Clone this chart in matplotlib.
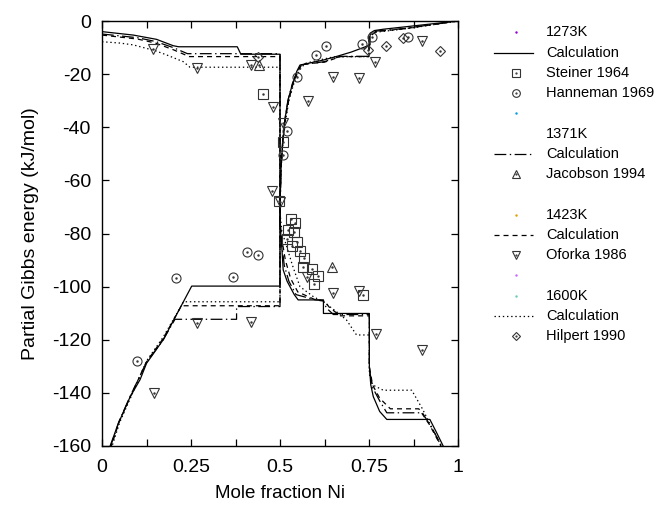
import numpy as np
import matplotlib
matplotlib.use("Agg")
import matplotlib.pyplot as plt

plt.rcParams['font.family'] = ['Liberation Sans', 'DejaVu Sans']
plt.rcParams['lines.scale_dashes'] = False

# ---------------- data ----------------
# Calculated partial Gibbs energies (kJ/mol); "al" branch falls, "ni" branch rises
al_1273_x = [0, 0.088, 0.153, 0.2, 0.215, 0.38, 0.39, 0.5, 0.5, 0.501, 0.505, 0.509, 0.52, 0.528, 0.54, 0.551, 0.622, 0.622, 0.751, 0.751, 0.755, 0.762, 0.78, 0.80, 0.921, 0.94, 0.962]
al_1273_y = [-4.0, -5.3, -6.9, -9.3, -9.7, -9.7, -12.5, -12.5, -70, -78, -85, -93.7, -98, -100, -103, -105, -105, -110.1, -110.1, -130, -137, -141.4, -147, -150, -150, -155, -161]
ni_1273_x = [0.02, 0.046, 0.079, 0.107, 0.125, 0.172, 0.252, 0.5, 0.5, 0.503, 0.508, 0.514, 0.522, 0.533, 0.547, 0.556, 0.622, 0.66, 0.70, 0.73, 0.753, 0.753, 0.765, 0.79, 1.0]
ni_1273_y = [-161, -151.5, -141.5, -135, -128.9, -120, -99.8, -99.8, -70, -55, -45, -37, -30, -24.7, -19, -16.6, -14.7, -13.3, -11.7, -10.2, -9.0, -4.6, -3.6, -3.1, 0]

al_1371_x = [0, 0.1, 0.15, 0.2, 0.24, 0.5, 0.5, 0.505, 0.512, 0.525, 0.545, 0.6, 0.622, 0.63, 0.65, 0.751, 0.751, 0.76, 0.78, 0.8, 0.9, 0.93, 0.958]
al_1371_y = [-4.9, -6.3, -7.7, -10.0, -12.3, -12.3, -76, -84, -92, -98, -103, -105, -105.2, -108, -110.5, -110.5, -131, -138, -143, -147.5, -147.5, -154, -161]
ni_1371_x = [0.022, 0.047, 0.08, 0.125, 0.172, 0.205, 0.378, 0.378, 0.5, 0.5, 0.503, 0.508, 0.515, 0.524, 0.535, 0.55, 0.56, 0.625, 0.67, 0.75, 0.75, 0.77, 0.85, 1.0]
ni_1371_y = [-161, -151, -141, -128.5, -120, -112.3, -112.3, -107.5, -107.5, -70, -55, -44, -36, -29, -23.5, -18.5, -16.5, -15.3, -13.3, -13.3, -5.5, -3.8, -2.8, 0]

al_1423_x = [0, 0.1, 0.15, 0.2, 0.245, 0.5, 0.5, 0.505, 0.515, 0.53, 0.55, 0.6, 0.625, 0.64, 0.67, 0.751, 0.751, 0.76, 0.78, 0.81, 0.89, 0.92, 0.956]
al_1423_y = [-5.3, -6.8, -8.3, -10.8, -13.4, -13.4, -75, -82, -90, -97, -102, -105, -105.5, -108, -111, -111, -130, -137, -142, -146, -146, -152, -161]
ni_1423_x = [0.024, 0.048, 0.081, 0.125, 0.172, 0.223, 0.5, 0.5, 0.503, 0.508, 0.515, 0.525, 0.537, 0.552, 0.562, 0.625, 0.67, 0.75, 0.75, 0.77, 0.85, 1.0]
ni_1423_y = [-161, -151, -141, -128.3, -119.5, -107.2, -107.2, -70, -55, -45, -37, -29.5, -23.5, -18.5, -16.3, -15.5, -13.4, -13.4, -5.8, -4.0, -2.9, 0]

al_1600_x = [0, 0.05, 0.088, 0.15, 0.182, 0.228, 0.247, 0.5, 0.5, 0.505, 0.519, 0.535, 0.556, 0.594, 0.625, 0.664, 0.687, 0.715, 0.751, 0.751, 0.76, 0.79, 0.87, 0.9, 0.949, 0.955]
al_1600_y = [-7.8, -8.3, -9.0, -11.2, -12.8, -15.3, -17.4, -17.4, -72, -79, -85, -92, -100, -103.8, -106, -110, -112.6, -118.2, -118.2, -133, -137, -139, -139, -146, -159, -161]
ni_1600_x = [0.026, 0.05, 0.083, 0.125, 0.172, 0.229, 0.5, 0.5, 0.503, 0.508, 0.515, 0.525, 0.54, 0.555, 0.57, 0.6, 0.65, 0.75, 0.75, 0.77, 0.85, 1.0]
ni_1600_y = [-161, -151, -141, -128, -119, -105.7, -105.7, -70, -56, -46, -38, -30, -23, -18.5, -16, -15, -13.5, -13.4, -6.0, -4.2, -3.0, 0]

# Experimental points
steiner_x = [0.451, 0.509, 0.498, 0.531, 0.542, 0.523, 0.539, 0.521, 0.547, 0.535, 0.556, 0.567, 0.564, 0.591, 0.606, 0.596, 0.732]
steiner_y = [-27.6, -45.7, -67.6, -74.5, -75.9, -78.7, -79.3, -82.1, -83.3, -84.6, -86.5, -89.4, -92.7, -93.4, -96.0, -99.1, -103.0]
hanneman_x = [0.519, 0.508, 0.549, 0.600, 0.629, 0.730, 0.759, 0.859, 0.406, 0.437, 0.208, 0.367, 0.098]
hanneman_y = [-41.3, -50.4, -21.2, -12.8, -9.4, -8.8, -5.9, -5.9, -87.1, -88.0, -96.9, -96.2, -127.9]
jacobson_x = [0.442, 0.647]
jacobson_y = [-16.6, -92.5]
oforka_x = [0.144, 0.266, 0.419, 0.479, 0.508, 0.580, 0.650, 0.722, 0.767, 0.900, 0.477, 0.500, 0.266, 0.419, 0.577, 0.648, 0.722, 0.769, 0.147, 0.898]
oforka_y = [-10.7, -17.8, -16.6, -32.3, -38.5, -30.0, -21.0, -21.3, -15.3, -7.4, -63.9, -68.0, -113.6, -113.2, -96.3, -102.5, -101.7, -117.8, -140.2, -123.9]
hilpert_x = [0.439, 0.748, 0.798, 0.845, 0.949]
hilpert_y = [-13.7, -10.9, -9.3, -6.5, -11.3]

x_ticks = [0, 0.125, 0.25, 0.375, 0.5, 0.625, 0.75, 0.875, 1.0]
x_ticklabels = ['0', '', '0.25', '', '0.5', '', '0.75', '', '1']
y_ticks = [0, -20, -40, -60, -80, -100, -120, -140, -160]

legend_rows = [
    ("1273K", "dot", "#9400d3"), ("Calculation", "solid", None), ("Steiner 1964", "s", None),
    ("Hanneman 1969", "o", None), ("", "dot", "#009ee0"),
    ("1371K", "none", None), ("Calculation", "dashdot", None), ("Jacobson 1994", "^", None),
    ("", "none", None),
    ("1423K", "dot", "#e69f00"), ("Calculation", "dashed", None), ("Oforka 1986", "v", None),
    ("", "dot", "#cc66ff"),
    ("1600K", "dot", "#66ccbb"), ("Calculation", "dotted", None), ("Hilpert 1990", "D", None),
]

# ---------------- styles ----------------
W, H = 657, 513
fig = plt.figure(figsize=(W / 100, H / 100), dpi=100)
ax = fig.add_axes([102 / W, 1 - 446 / H, (458 - 102) / W, (446 - 21) / H])

styles = {
    "solid": dict(linestyle='-'),
    "dashdot": dict(linestyle=(0, (8.5, 2.5, 1.0, 2.5))),
    "dashed": dict(linestyle=(0, (3.6, 2.9))),
    "dotted": dict(linestyle=(0, (1.0, 2.0))),
}
lw = 0.9
for (xa, ya, xn, yn, st) in [
    (al_1273_x, al_1273_y, ni_1273_x, ni_1273_y, "solid"),
    (al_1371_x, al_1371_y, ni_1371_x, ni_1371_y, "dashdot"),
    (al_1423_x, al_1423_y, ni_1423_x, ni_1423_y, "dashed"),
    (al_1600_x, al_1600_y, ni_1600_x, ni_1600_y, "dotted"),
]:
    ax.plot(xa, ya, color='black', lw=lw, **styles[st])
    ax.plot(xn, yn, color='black', lw=lw, **styles[st])

mk_color = '#333333'
msizes = {"s": 6.5, "o": 6.5, "^": 6.5, "v": 6.5, "D": 5.0}
for xs, ys, m in [(steiner_x, steiner_y, 's'), (hanneman_x, hanneman_y, 'o'),
                  (jacobson_x, jacobson_y, '^'), (oforka_x, oforka_y, 'v'),
                  (hilpert_x, hilpert_y, 'D')]:
    ax.plot(xs, ys, linestyle='none', marker=m, ms=msizes[m], mfc='none',
            mec=mk_color, mew=0.8, clip_on=False)
    ax.plot(xs, ys, linestyle='none', marker='.', ms=1.5, color=mk_color, clip_on=False)

ax.set_xlim(0, 1)
ax.set_ylim(-160, 0)
ax.set_xticks(x_ticks)
ax.set_xticklabels(x_ticklabels)
ax.set_yticks(y_ticks)
ax.set_yticklabels([str(v) for v in y_ticks])
ax.tick_params(direction='in', length=5, width=0.9, top=True, right=True,
               labelsize=14)
ax.tick_params(axis='x', pad=9)
ax.tick_params(axis='y', pad=8)
for s in ax.spines.values():
    s.set_linewidth(1.0)
ax.set_xlabel("Mole fraction Ni", fontsize=13.5, labelpad=7)
ax.set_ylabel("Partial Gibbs energy (kJ/mol)", fontsize=14, labelpad=9)

# ---------------- legend (manual, in figure pixel coordinates) ----------------
lax = fig.add_axes([0, 0, 1, 1], facecolor='none')
lax.set_xlim(0, W)
lax.set_ylim(H, 0)
lax.axis('off')
for i, (label, kind, col) in enumerate(legend_rows):
    y = 32.3 + i * 20.25
    if kind in styles:
        lax.plot([494, 533], [y, y], color='black', lw=lw, **styles[kind])
    elif kind == "dot":
        lax.plot([515.7], [y], marker='.', ms=1.5, color=col)
    elif kind in msizes:
        lax.plot([515.7], [y], marker=kind, ms=msizes[kind] * 0.85, mfc='none', mec=mk_color, mew=0.8)
        lax.plot([515.7], [y], marker='.', ms=1.2, color=mk_color)
    if label:
        lax.text(546, y, label, fontsize=10.5, va='center', ha='left')

fig.savefig("out.png", dpi=100)
